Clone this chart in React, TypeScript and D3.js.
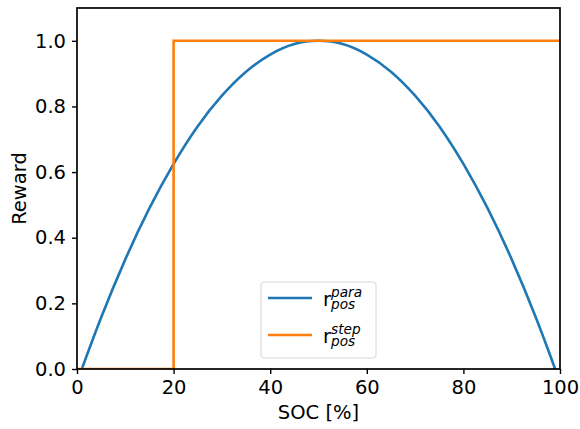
import { useEffect, useRef } from 'react';
import * as d3 from 'd3';

// Parabolic reward
const paraSoc = [1, 5, 10, 15, 20, 25, 30, 35, 40, 45, 50, 55, 60, 65, 70, 75, 80, 85, 90, 95, 99];
const paraReward = [0, 0.157, 0.334, 0.49, 0.625, 0.74, 0.833, 0.906, 0.958, 0.99, 1.0, 0.99, 0.958, 0.906, 0.833, 0.74, 0.625, 0.49, 0.334, 0.157, 0];

// Step reward
const stepSoc = [0, 20, 20, 100];
const stepReward = [0, 0, 1, 1];

const xTicks = [0, 20, 40, 60, 80, 100];
const yTicks = [0, 0.2, 0.4, 0.6, 0.8, 1.0];

const App = () => {
  const svgRef = useRef<SVGSVGElement>(null);

  useEffect(() => {
    const width = 580;
    const height = 429;
    const margin = { top: 8, right: 20, bottom: 60, left: 77 };
    const font = 'DejaVu Sans';
    const fs = '19.5px';

    const svg = d3.select(svgRef.current)
      .attr('width', width)
      .attr('height', height)
      .style('background-color', '#ffffff');

    svg.selectAll('*').remove();

    const xScale = d3.scaleLinear()
      .domain([0, 100])
      .range([margin.left, width - margin.right]);

    const yScale = d3.scaleLinear()
      .domain([0, 1.1])
      .range([height - margin.bottom, margin.top]);

    // clip to the axes area
    svg.append('clipPath')
      .attr('id', 'plot-clip')
      .append('rect')
      .attr('x', margin.left)
      .attr('y', margin.top)
      .attr('width', width - margin.left - margin.right)
      .attr('height', height - margin.top - margin.bottom);

    const plot = svg.append('g').attr('clip-path', 'url(#plot-clip)');

    const line = d3.line<[number, number]>()
      .x(d => xScale(d[0]))
      .y(d => yScale(d[1]));

    plot.append('path')
      .datum(paraSoc.map((s, i) => [s, paraReward[i]] as [number, number]))
      .attr('fill', 'none')
      .attr('stroke', '#1f77b4')
      .attr('stroke-width', 2.6)
      .attr('d', line.curve(d3.curveNatural));

    plot.append('path')
      .datum(stepSoc.map((s, i) => [s, stepReward[i]] as [number, number]))
      .attr('fill', 'none')
      .attr('stroke', '#ff7f0e')
      .attr('stroke-width', 2.6)
      .attr('d', line.curve(d3.curveLinear));

    // X axis
    const xAxis = svg.append('g')
      .attr('transform', `translate(0, ${height - margin.bottom})`)
      .call(d3.axisBottom(xScale).tickValues(xTicks).tickFormat(d3.format('d')).tickSize(5).tickSizeOuter(0).tickPadding(6));
    xAxis.select('.domain').remove();
    xAxis.selectAll('line').attr('stroke-width', 1.4);
    xAxis.selectAll('text').style('font-family', font).style('font-size', fs).attr('fill', '#000');

    // Y axis
    const yAxis = svg.append('g')
      .attr('transform', `translate(${margin.left}, 0)`)
      .call(d3.axisLeft(yScale).tickValues(yTicks).tickFormat(d3.format('.1f')).tickSize(5).tickSizeOuter(0).tickPadding(6));
    yAxis.select('.domain').remove();
    yAxis.selectAll('line').attr('stroke-width', 1.4);
    yAxis.selectAll('text').style('font-family', font).style('font-size', fs).attr('fill', '#000');

    // spines
    svg.append('rect')
      .attr('x', margin.left)
      .attr('y', margin.top)
      .attr('width', width - margin.left - margin.right)
      .attr('height', height - margin.top - margin.bottom)
      .attr('fill', 'none')
      .attr('stroke', '#000')
      .attr('stroke-width', 1.7);

    // axis labels
    svg.append('text')
      .attr('x', (margin.left + width - margin.right) / 2)
      .attr('y', 419)
      .attr('text-anchor', 'middle')
      .style('font-family', font)
      .style('font-size', fs)
      .text('SOC [%]');

    svg.append('text')
      .attr('text-anchor', 'middle')
      .attr('transform', `translate(26, ${(margin.top + height - margin.bottom) / 2}) rotate(-90)`)
      .style('font-family', font)
      .style('font-size', fs)
      .text('Reward');

    // legend
    const legend = svg.append('g').attr('transform', 'translate(261, 282)');
    legend.append('rect')
      .attr('width', 115)
      .attr('height', 76)
      .attr('rx', 3)
      .attr('fill', '#fff')
      .attr('fill-opacity', 0.8)
      .attr('stroke', '#d6d6d6')
      .attr('stroke-width', 1);

    const entries = [
      { color: '#1f77b4', sup: 'para', y: 16 },
      { color: '#ff7f0e', sup: 'step', y: 53 },
    ];
    entries.forEach(e => {
      legend.append('line')
        .attr('x1', 7).attr('x2', 51)
        .attr('y1', e.y).attr('y2', e.y)
        .attr('stroke', e.color)
        .attr('stroke-width', 2.6);
      const t = legend.append('text')
        .attr('x', 62)
        .attr('y', e.y + 8)
        .style('font-family', font)
        .style('font-size', fs)
        .attr('fill', '#000');
      t.append('tspan').text('r');
      t.append('tspan')
        .attr('dy', -9)
        .style('font-size', '13.7px')
        .style('font-style', 'italic')
        .text(e.sup);
      t.append('tspan')
        .attr('x', 70)
        .attr('dy', 12)
        .style('font-size', '13.7px')
        .style('font-style', 'italic')
        .text('pos');
    });
  }, []);

  return <svg ref={svgRef} style={{ position: 'absolute', left: 0, top: 0 }}></svg>;
};

export default App;
